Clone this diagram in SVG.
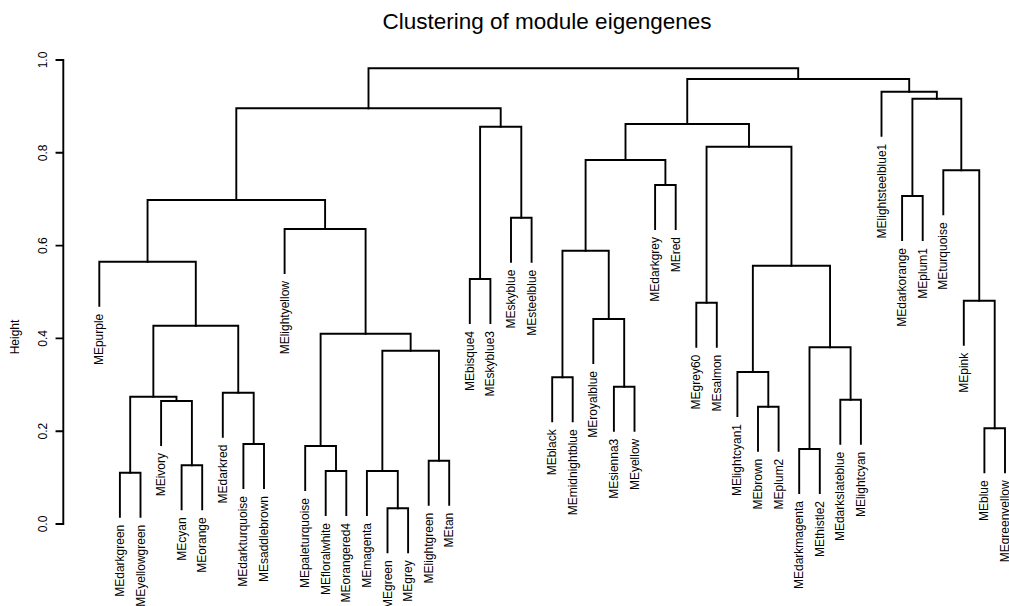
<svg xmlns="http://www.w3.org/2000/svg" width="1009" height="606" viewBox="0 0 1009 606">
<style>
text{font-family:"Liberation Sans",Arial,sans-serif;fill:#000}
.lbl{font-size:12px;text-anchor:end;dominant-baseline:central}
.tk{font-size:12px;text-anchor:middle;dominant-baseline:central}
.ln{fill:none;stroke:#000;stroke-width:1.9;stroke-linecap:square}
.title{font-size:22.5px;text-anchor:middle}
</style>
<rect width="1009" height="606" fill="#fff"/>
<text class="title" x="547" y="29">Clustering of module eigengenes</text>
<g id="axis">
<path class="ln" d="M63.3 60V524M56.5 60H63.3M56.5 152.8H63.3M56.5 245.6H63.3M56.5 338.4H63.3M56.5 431.2H63.3M56.5 524H63.3"/>
<text class="tk" transform="translate(42.7,524) rotate(-90)">0.0</text>
<text class="tk" transform="translate(42.7,431.2) rotate(-90)">0.2</text>
<text class="tk" transform="translate(42.7,338.4) rotate(-90)">0.4</text>
<text class="tk" transform="translate(42.7,245.6) rotate(-90)">0.6</text>
<text class="tk" transform="translate(42.7,152.8) rotate(-90)">0.8</text>
<text class="tk" transform="translate(42.7,60) rotate(-90)">1.0</text>
<text class="tk" transform="translate(15,337) rotate(-90)">Height</text>
</g>
<g id="connectors" class="ln">
<path d="M119.9 516.7V472.7H140.5V516.7"/>
<path d="M181.6 509.3V465.3H202.2V509.3"/>
<path d="M161.1 445V401H191.9V465.3"/>
<path d="M130.2 472.7V396.7H176.5V401"/>
<path d="M243.4 488V444H264V488"/>
<path d="M222.8 436.7V392.7H253.7V444"/>
<path d="M153.35 396.7V325.7H238.25V392.7"/>
<path d="M99.3 305.7V261.7H195.8V325.7"/>
<path d="M325.7 515V471H346.3V515"/>
<path d="M305.2 490V446H336V471"/>
<path d="M387.5 552.3V508.3H408.1V552.3"/>
<path d="M366.9 515V471H397.8V508.3"/>
<path d="M428.7 504.7V460.7H449.2V504.7"/>
<path d="M382.35 471V350.7H438.95V460.7"/>
<path d="M320.6 446V333.7H410.65V350.7"/>
<path d="M284.6 273V229H365.6V333.7"/>
<path d="M147.55 261.7V200H325.1V229"/>
<path d="M469.8 323V279H490.4V323"/>
<path d="M511 261.7V217.7H531.6V261.7"/>
<path d="M480.1 279V126.7H521.3V217.7"/>
<path d="M236.3 200V108.3H500.7V126.7"/>
<path d="M552.2 421.3V377.3H572.7V421.3"/>
<path d="M613.9 430.7V386.7H634.5V430.7"/>
<path d="M593.3 363V319H624.2V386.7"/>
<path d="M562.45 377.3V250.7H608.75V319"/>
<path d="M655.1 229V185H675.7V229"/>
<path d="M585.6 250.7V160H665.4V185"/>
<path d="M696.3 346.7V302.7H716.8V346.7"/>
<path d="M758 450.7V406.7H778.6V450.7"/>
<path d="M737.4 416V372H768.3V406.7"/>
<path d="M799.2 493V449H819.8V493"/>
<path d="M840.3 443.7V399.7H860.9V443.7"/>
<path d="M809.5 449V347.3H850.6V399.7"/>
<path d="M752.85 372V265.7H830.05V347.3"/>
<path d="M706.55 302.7V146.7H791.45V265.7"/>
<path d="M625.5 160V124H749V146.7"/>
<path d="M902.1 240V196H922.7V240"/>
<path d="M984.4 472.3V428.3H1005V472.3"/>
<path d="M963.8 344.7V300.7H994.7V428.3"/>
<path d="M943.3 214.3V170.3H979.25V300.7"/>
<path d="M912.4 196V98.7H961.3V170.3"/>
<path d="M881.5 135.7V91.7H936.85V98.7"/>
<path d="M687.25 124V79H909.2V91.7"/>
<path d="M368.5 108.3V68.3H798.2V79"/>
</g>
<g id="leaves">
<g id="MEpurple"><text class="lbl" transform="translate(99.3,313.7) rotate(-90)">MEpurple</text></g>
<g id="MEdarkgreen"><text class="lbl" transform="translate(119.9,524.7) rotate(-90)">MEdarkgreen</text></g>
<g id="MEyellowgreen"><text class="lbl" transform="translate(140.5,524.7) rotate(-90)">MEyellowgreen</text></g>
<g id="MEivory"><text class="lbl" transform="translate(161.1,453) rotate(-90)">MEivory</text></g>
<g id="MEcyan"><text class="lbl" transform="translate(181.6,517.3) rotate(-90)">MEcyan</text></g>
<g id="MEorange"><text class="lbl" transform="translate(202.2,517.3) rotate(-90)">MEorange</text></g>
<g id="MEdarkred"><text class="lbl" transform="translate(222.8,444.7) rotate(-90)">MEdarkred</text></g>
<g id="MEdarkturquoise"><text class="lbl" transform="translate(243.4,496) rotate(-90)">MEdarkturquoise</text></g>
<g id="MEsaddlebrown"><text class="lbl" transform="translate(264,496) rotate(-90)">MEsaddlebrown</text></g>
<g id="MElightyellow"><text class="lbl" transform="translate(284.6,281) rotate(-90)">MElightyellow</text></g>
<g id="MEpaleturquoise"><text class="lbl" transform="translate(305.2,498) rotate(-90)">MEpaleturquoise</text></g>
<g id="MEfloralwhite"><text class="lbl" transform="translate(325.7,523) rotate(-90)">MEfloralwhite</text></g>
<g id="MEorangered4"><text class="lbl" transform="translate(346.3,523) rotate(-90)">MEorangered4</text></g>
<g id="MEmagenta"><text class="lbl" transform="translate(366.9,523) rotate(-90)">MEmagenta</text></g>
<g id="MEgreen"><text class="lbl" transform="translate(387.5,560.3) rotate(-90)">MEgreen</text></g>
<g id="MEgrey"><text class="lbl" transform="translate(408.1,560.3) rotate(-90)">MEgrey</text></g>
<g id="MElightgreen"><text class="lbl" transform="translate(428.7,512.7) rotate(-90)">MElightgreen</text></g>
<g id="MEtan"><text class="lbl" transform="translate(449.2,512.7) rotate(-90)">MEtan</text></g>
<g id="MEbisque4"><text class="lbl" transform="translate(469.8,331) rotate(-90)">MEbisque4</text></g>
<g id="MEskyblue3"><text class="lbl" transform="translate(490.4,331) rotate(-90)">MEskyblue3</text></g>
<g id="MEskyblue"><text class="lbl" transform="translate(511,269.7) rotate(-90)">MEskyblue</text></g>
<g id="MEsteelblue"><text class="lbl" transform="translate(531.6,269.7) rotate(-90)">MEsteelblue</text></g>
<g id="MEblack"><text class="lbl" transform="translate(552.2,429.3) rotate(-90)">MEblack</text></g>
<g id="MEmidnightblue"><text class="lbl" transform="translate(572.7,429.3) rotate(-90)">MEmidnightblue</text></g>
<g id="MEroyalblue"><text class="lbl" transform="translate(593.3,371) rotate(-90)">MEroyalblue</text></g>
<g id="MEsienna3"><text class="lbl" transform="translate(613.9,438.7) rotate(-90)">MEsienna3</text></g>
<g id="MEyellow"><text class="lbl" transform="translate(634.5,438.7) rotate(-90)">MEyellow</text></g>
<g id="MEdarkgrey"><text class="lbl" transform="translate(655.1,237) rotate(-90)">MEdarkgrey</text></g>
<g id="MEred"><text class="lbl" transform="translate(675.7,237) rotate(-90)">MEred</text></g>
<g id="MEgrey60"><text class="lbl" transform="translate(696.3,354.7) rotate(-90)">MEgrey60</text></g>
<g id="MEsalmon"><text class="lbl" transform="translate(716.8,354.7) rotate(-90)">MEsalmon</text></g>
<g id="MElightcyan1"><text class="lbl" transform="translate(737.4,424) rotate(-90)">MElightcyan1</text></g>
<g id="MEbrown"><text class="lbl" transform="translate(758,458.7) rotate(-90)">MEbrown</text></g>
<g id="MEplum2"><text class="lbl" transform="translate(778.6,458.7) rotate(-90)">MEplum2</text></g>
<g id="MEdarkmagenta"><text class="lbl" transform="translate(799.2,501) rotate(-90)">MEdarkmagenta</text></g>
<g id="MEthistle2"><text class="lbl" transform="translate(819.8,501) rotate(-90)">MEthistle2</text></g>
<g id="MEdarkslateblue"><text class="lbl" transform="translate(840.3,451.7) rotate(-90)">MEdarkslateblue</text></g>
<g id="MElightcyan"><text class="lbl" transform="translate(860.9,451.7) rotate(-90)">MElightcyan</text></g>
<g id="MElightsteelblue1"><text class="lbl" transform="translate(881.5,143.7) rotate(-90)">MElightsteelblue1</text></g>
<g id="MEdarkorange"><text class="lbl" transform="translate(902.1,248) rotate(-90)">MEdarkorange</text></g>
<g id="MEplum1"><text class="lbl" transform="translate(922.7,248) rotate(-90)">MEplum1</text></g>
<g id="MEturquoise"><text class="lbl" transform="translate(943.3,222.3) rotate(-90)">MEturquoise</text></g>
<g id="MEpink"><text class="lbl" transform="translate(963.8,352.7) rotate(-90)">MEpink</text></g>
<g id="MEblue"><text class="lbl" transform="translate(984.4,480.3) rotate(-90)">MEblue</text></g>
<g id="MEgreenyellow"><text class="lbl" transform="translate(1005,480.3) rotate(-90)">MEgreenyellow</text></g>
</g>
</svg>
